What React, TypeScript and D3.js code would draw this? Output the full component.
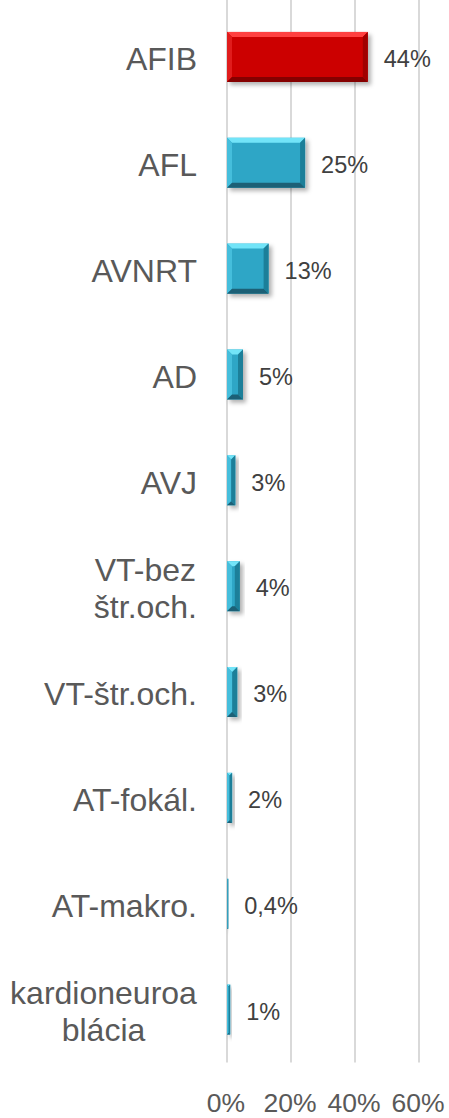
import * as d3 from "d3";
import { useEffect, useRef } from "react";

// Data
const categories = ["AFIB", "AFL", "AVNRT", "AD", "AVJ", "VT-bez štr.och.", "VT-štr.och.", "AT-fokál.", "AT-makro.", "kardioneuroablácia"];
const categoryLines = [["AFIB"], ["AFL"], ["AVNRT"], ["AD"], ["AVJ"], ["VT-bez", "štr.och."], ["VT-štr.och."], ["AT-fokál."], ["AT-makro."], ["kardioneuroa", "blácia"]];
const values = [44, 24.4, 13, 5, 2.6, 4, 3.2, 1.6, 0.4, 1];
const valueLabels = ["44%", "25%", "13%", "5%", "3%", "4%", "3%", "2%", "0,4%", "1%"];
const ticks = [0, 20, 40, 60];

const FONT = "'Liberation Sans', Arial, sans-serif";

const App = () => {
    const svgRef = useRef<SVGSVGElement | null>(null);

    useEffect(() => {
        if (!svgRef.current) return;

        const width = 449;
        const height = 1118;

        const svg = d3.select(svgRef.current)
            .attr("width", width)
            .attr("height", height)
            .style("position", "absolute")
            .style("left", "0px")
            .style("top", "0px")
            .style("background", "#ffffff");

        svg.selectAll("*").remove();

        const defs = svg.append("defs");
        defs.append("filter")
            .attr("id", "shadow")
            .attr("x", "-20%").attr("y", "-20%")
            .attr("width", "160%").attr("height", "160%")
            .append("feDropShadow")
            .attr("dx", 3).attr("dy", 3)
            .attr("stdDeviation", 2)
            .attr("flood-color", "#000")
            .attr("flood-opacity", 0.3);

        const x = d3.scaleLinear().domain([0, 60]).range([227, 419]);
        const y = d3.scaleBand<string>()
            .domain(categories)
            .range([4, 1062.5])
            .paddingInner(0.5276)
            .paddingOuter(0.2638);

        // Gridlines
        svg.append("g")
            .selectAll("line")
            .data(ticks)
            .join("line")
            .attr("x1", d => x(d)).attr("x2", d => x(d))
            .attr("y1", 0).attr("y2", 1062.5)
            .attr("stroke", "#d9d9d9")
            .attr("stroke-width", 2);

        // Tick labels
        svg.append("g")
            .selectAll("text")
            .data(ticks)
            .join("text")
            .attr("x", d => x(d) - 1)
            .attr("y", 1112)
            .attr("text-anchor", "middle")
            .attr("font-family", FONT)
            .attr("font-size", 26.5)
            .attr("fill", "#595959")
            .text(d => `${d}%`);

        // Bevelled bars
        const palette = (i: number) => i === 0
            ? { top: "#ff4040", left: "#e01a1a", main: "#cc0000", right: "#a00000", bottom: "#850000" }
            : { top: "#72e4f8", left: "#45bedc", main: "#2fa6c6", right: "#1f7f99", bottom: "#1a6176" };

        const bars = svg.append("g");
        categories.forEach((c, i) => {
            const x0 = x(0);
            const x1 = x(values[i]);
            const y0 = y(c)!;
            const y1 = y0 + y.bandwidth();
            const b = Math.min(5, (x1 - x0) / 2, (y1 - y0) / 2);
            const col = palette(i);
            const g = bars.append("g").attr("filter", "url(#shadow)");
            const pts = (p: number[][]) => p.map(q => q.join(",")).join(" ");
            g.append("rect")
                .attr("x", x0).attr("y", y0)
                .attr("width", x1 - x0).attr("height", y1 - y0)
                .attr("fill", col.main);
            g.append("polygon").attr("fill", col.top)
                .attr("points", pts([[x0, y0], [x1, y0], [x1 - b, y0 + b], [x0 + b, y0 + b]]));
            g.append("polygon").attr("fill", col.left)
                .attr("points", pts([[x0, y0], [x0 + b, y0 + b], [x0 + b, y1 - b], [x0, y1]]));
            g.append("polygon").attr("fill", col.right)
                .attr("points", pts([[x1, y0], [x1, y1], [x1 - b, y1 - b], [x1 - b, y0 + b]]));
            g.append("polygon").attr("fill", col.bottom)
                .attr("points", pts([[x0, y1], [x0 + b, y1 - b], [x1 - b, y1 - b], [x1, y1]]));
        });

        // Value labels
        svg.append("g")
            .selectAll("text")
            .data(categories)
            .join("text")
            .attr("x", (_, i) => x(values[i]) + 16)
            .attr("y", d => y(d)! + y.bandwidth() / 2 + 2)
            .attr("dy", "0.35em")
            .attr("font-family", FONT)
            .attr("font-size", 23.5)
            .attr("fill", "#404040")
            .text((_, i) => valueLabels[i]);

        // Category labels (right-aligned block, lines centred within block)
        const labelRight = 197;
        const lineH = 37;
        categories.forEach((c, i) => {
            const lines = categoryLines[i];
            const cy = y(c)! + y.bandwidth() / 2 + 2;
            const t = svg.append("text")
                .attr("font-family", FONT)
                .attr("font-size", 32)
                .attr("fill", "#595959")
                .attr("text-anchor", "middle");
            lines.forEach((ln, j) => {
                t.append("tspan")
                    .attr("x", 0)
                    .attr("y", cy + (j - (lines.length - 1) / 2) * lineH)
                    .attr("dy", "0.35em")
                    .text(ln);
            });
            const w = (t.node() as SVGTextElement).getBBox().width;
            t.selectAll("tspan").attr("x", labelRight - w / 2);
        });
    }, []);

    return <svg ref={svgRef}></svg>;
};

export default App;
